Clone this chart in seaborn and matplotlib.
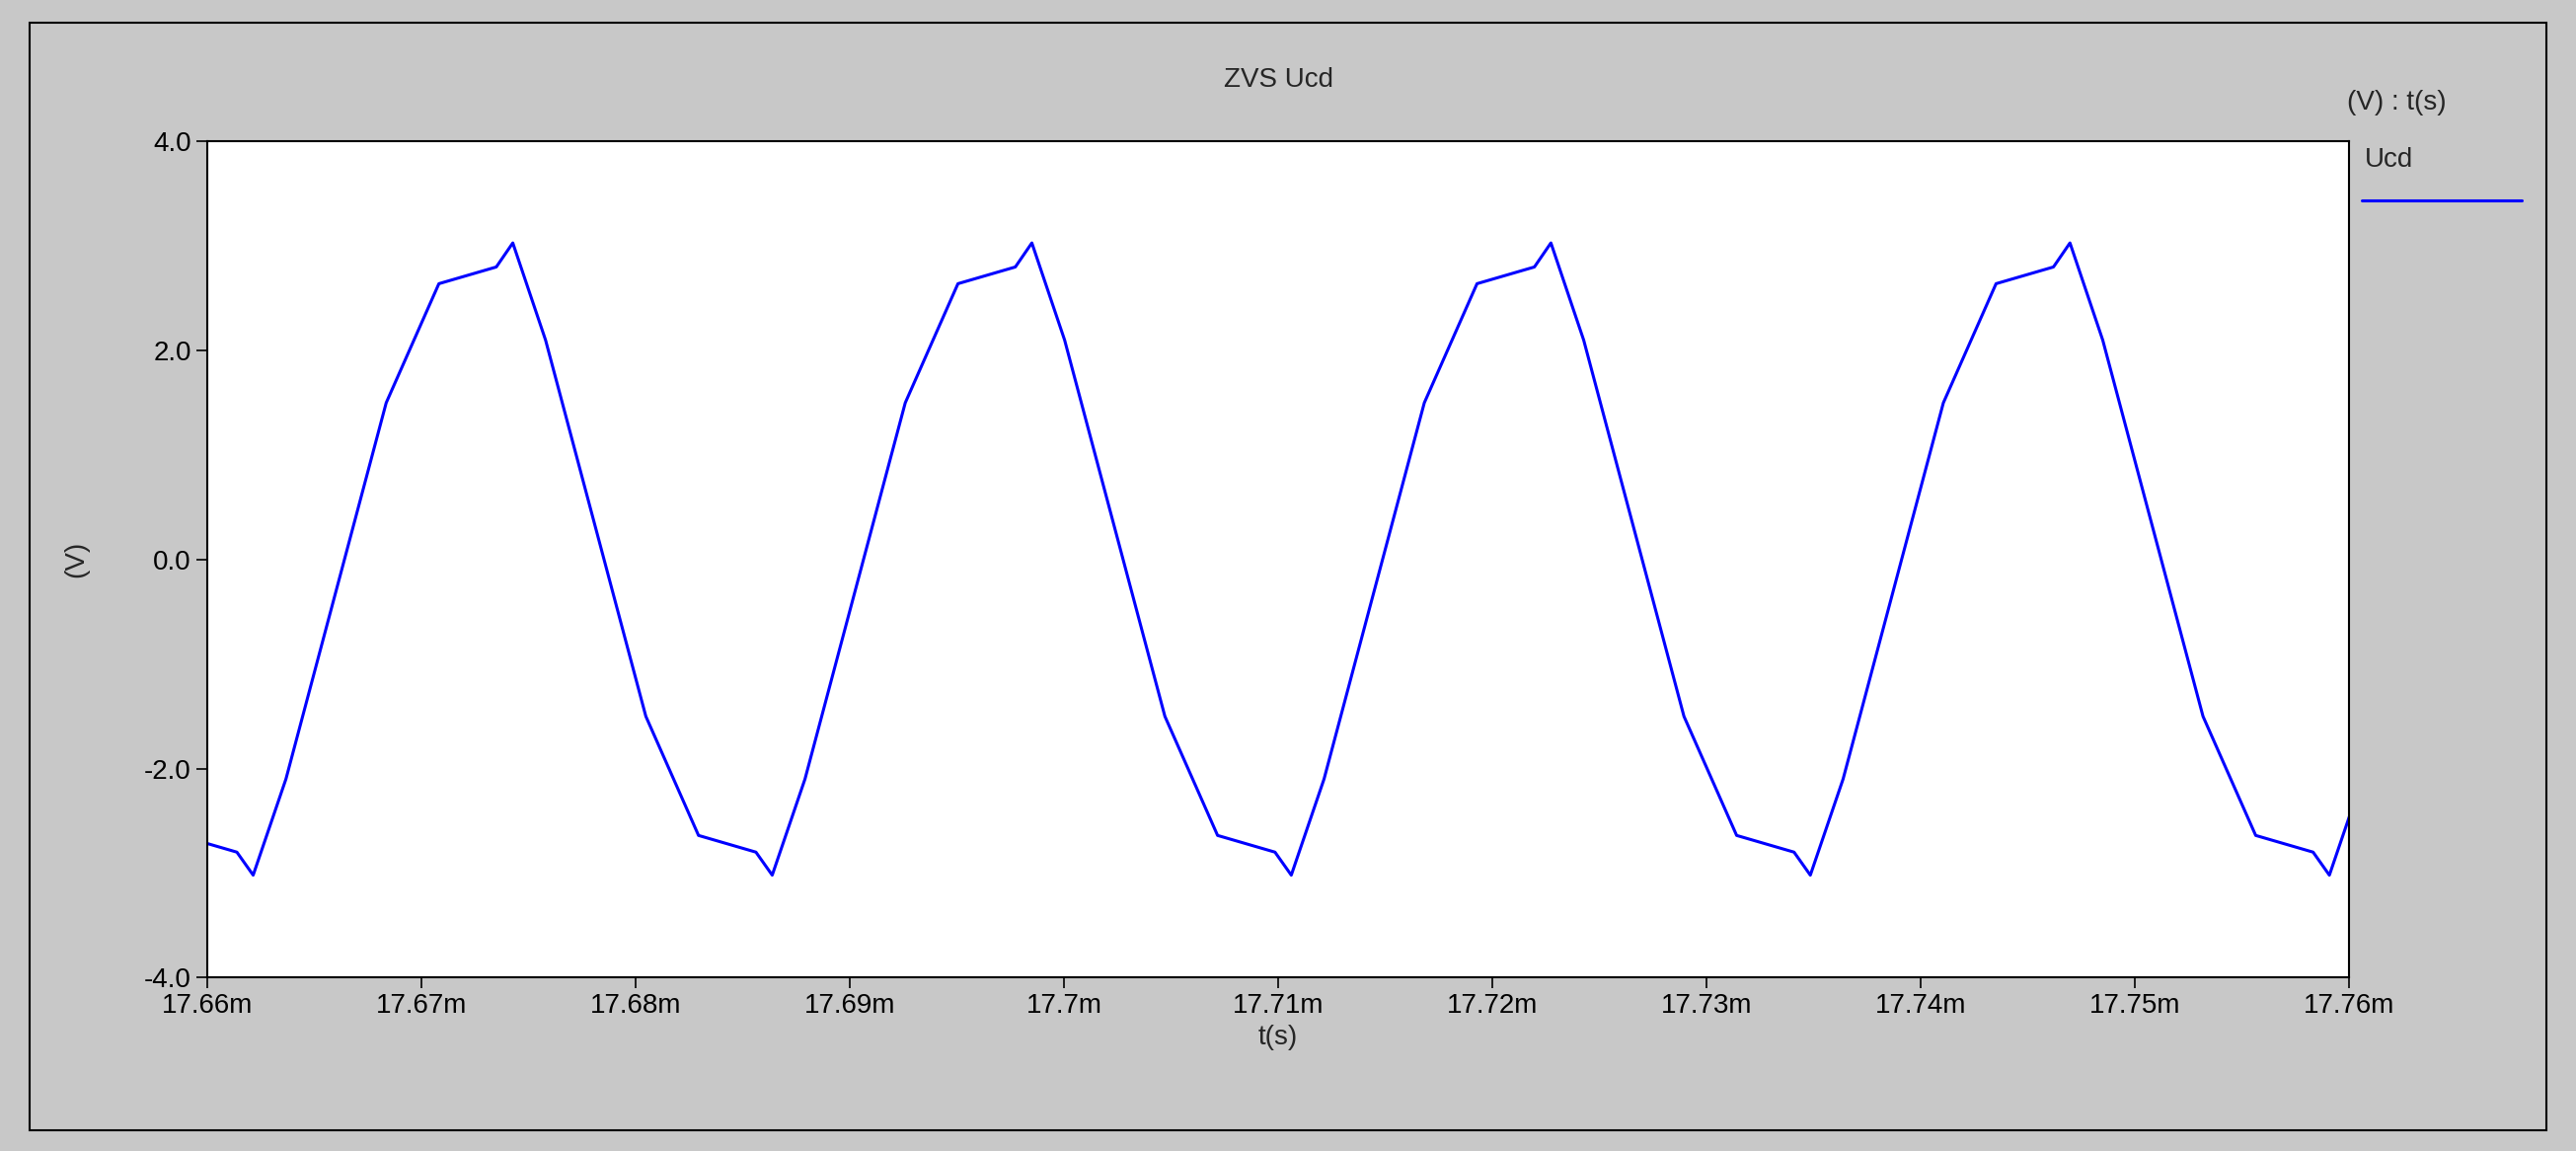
import matplotlib
matplotlib.use("Agg")
import matplotlib.pyplot as plt
import seaborn as sns
import pandas as pd

# waveform vertices, time offset from 17.66 ms in microseconds
t_us = [-1.29, 1.39,
        2.15, 3.68, 8.36, 10.82, 13.50, 14.27, 15.80, 20.48, 22.94, 25.62,
        26.38, 27.91, 32.59, 35.05, 37.73, 38.50, 40.03, 44.71, 47.17, 49.85,
        50.61, 52.14, 56.82, 59.28, 61.96, 62.73, 64.26, 68.94, 71.40, 74.08,
        74.84, 76.37, 81.05, 83.51, 86.19, 86.96, 88.49, 93.17, 95.63, 98.31,
        99.07, 100.6]
ucd = [-2.64, -2.80,
       -3.02, -2.1, 1.5, 2.64, 2.80, 3.03, 2.1, -1.5, -2.64, -2.80,
       -3.02, -2.1, 1.5, 2.64, 2.80, 3.03, 2.1, -1.5, -2.64, -2.80,
       -3.02, -2.1, 1.5, 2.64, 2.80, 3.03, 2.1, -1.5, -2.64, -2.80,
       -3.02, -2.1, 1.5, 2.64, 2.80, 3.03, 2.1, -1.5, -2.64, -2.80,
       -3.02, -2.1]
xticks = [17.66, 17.67, 17.68, 17.69, 17.70, 17.71, 17.72, 17.73, 17.74, 17.75, 17.76]
xtick_labels = ["17.66m", "17.67m", "17.68m", "17.69m", "17.7m", "17.71m",
                "17.72m", "17.73m", "17.74m", "17.75m", "17.76m"]
yticks = [-4.0, -2.0, 0.0, 2.0, 4.0]

df = pd.DataFrame({"t": [17.66 + v / 1000 for v in t_us], "Ucd": ucd})

sns.set_style("ticks")
plt.rcParams["font.family"] = ["Liberation Sans", "DejaVu Sans"]
plt.rcParams["font.size"] = 20

bg = "#c8c8c8"
fig = plt.figure(figsize=(26.1, 11.66), dpi=100, facecolor=bg)
ax = fig.add_axes([0.0804, 0.1507, 0.8316, 0.7263])
ax.set_facecolor("white")

sns.lineplot(data=df, x="t", y="Ucd", ax=ax, color="#0000ff", linewidth=2.2,
             sort=False, estimator=None)

ax.set_xlim(17.66, 17.76)
ax.set_ylim(-4, 4)
ax.set_xticks(xticks)
ax.set_xticklabels(xtick_labels)
ax.set_yticks(yticks)
ax.set_yticklabels([f"{v:.1f}" for v in yticks])
ax.tick_params(direction="out", length=8, width=1.2, colors="black", labelsize=20)
for s in ax.spines.values():
    s.set_linewidth(1.5)
    s.set_color("black")
ax.set_xlabel("t(s)", fontsize=20, labelpad=4)
ax.set_ylabel("(V)", fontsize=20, labelpad=40)
ax.set_title("ZVS Ucd", fontsize=20, pad=40)

# simulator-style legend on the right
fig.text(0.911, 0.911, "(V) : t(s)", fontsize=20, ha="left", va="center")
fig.text(0.918, 0.861, "Ucd", fontsize=20, ha="left", va="center")
fig.add_artist(plt.Line2D([0.917, 0.979], [0.826, 0.826], color="#0000ff",
                          linewidth=2.2, transform=fig.transFigure))
# outer frame
fig.add_artist(plt.Rectangle((0.0115, 0.018), 0.977, 0.962, fill=False,
                             edgecolor="black", linewidth=1.5,
                             transform=fig.transFigure))

fig.savefig("out.png", dpi=100, facecolor=bg)
